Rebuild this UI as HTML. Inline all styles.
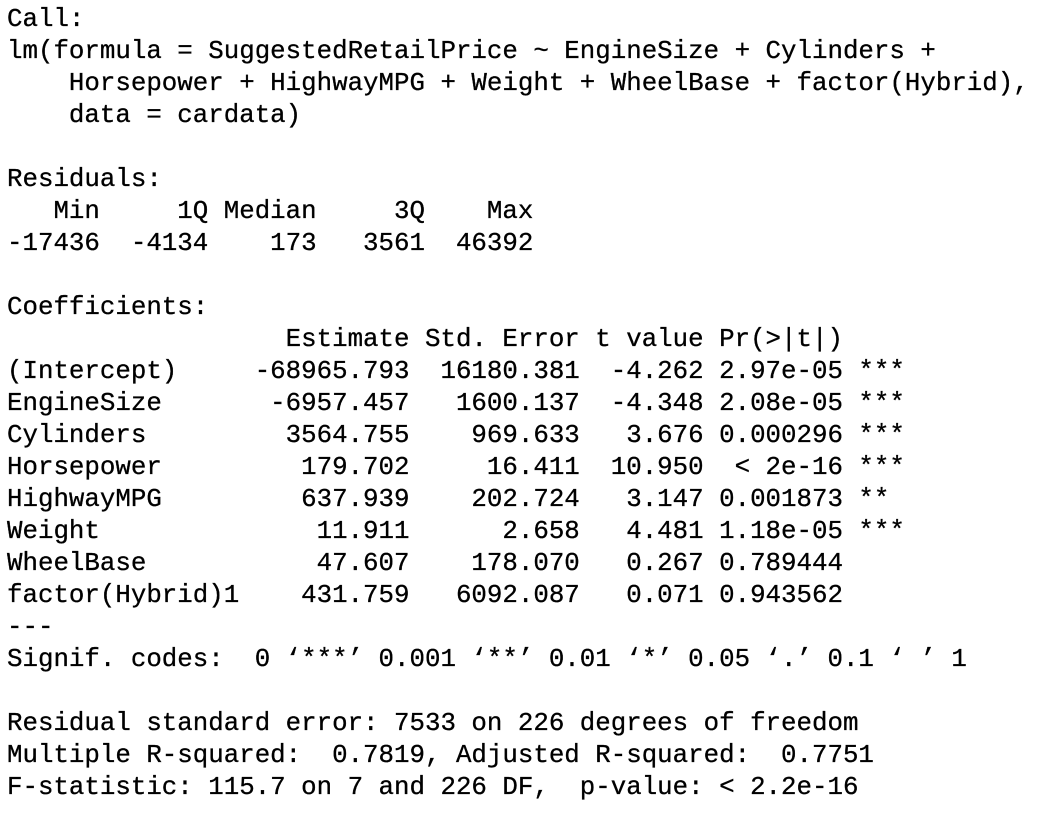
<!DOCTYPE html>
<html><head><meta charset="utf-8"><style>
html,body{margin:0;padding:0;background:#fff;width:1050px;height:820px;overflow:hidden}
pre{margin:0;position:absolute;left:7px;top:4px;font-family:"Liberation Mono",monospace;font-size:25.8px;line-height:32px;color:#000;white-space:pre;-webkit-text-stroke:0.3px #000}
</style></head><body>
<pre><span>Call:
lm(formula = SuggestedRetailPrice ~ EngineSize + Cylinders + 
    Horsepower + HighwayMPG + Weight + WheelBase + factor(Hybrid), 
    data = cardata)</span>

<span>Residuals:
   Min     1Q Median     3Q    Max 
-17436  -4134    173   3561  46392 </span>

<span>Coefficients:
                  Estimate Std. Error t value Pr(&gt;|t|)    
(Intercept)     -68965.793  16180.381  -4.262 2.97e-05 ***
EngineSize       -6957.457   1600.137  -4.348 2.08e-05 ***
Cylinders         3564.755    969.633   3.676 0.000296 ***
Horsepower         179.702     16.411  10.950  &lt; 2e-16 ***
HighwayMPG         637.939    202.724   3.147 0.001873 ** 
Weight              11.911      2.658   4.481 1.18e-05 ***
WheelBase           47.607    178.070   0.267 0.789444    
factor(Hybrid)1    431.759   6092.087   0.071 0.943562    
---
Signif. codes:  0 ‘***’ 0.001 ‘**’ 0.01 ‘*’ 0.05 ‘.’ 0.1 ‘ ’ 1</span>

<span>Residual standard error: 7533 on 226 degrees of freedom
Multiple R-squared:  0.7819, Adjusted R-squared:  0.7751 
F-statistic: 115.7 on 7 and 226 DF,  p-value: &lt; 2.2e-16</span></pre>
</body></html>
